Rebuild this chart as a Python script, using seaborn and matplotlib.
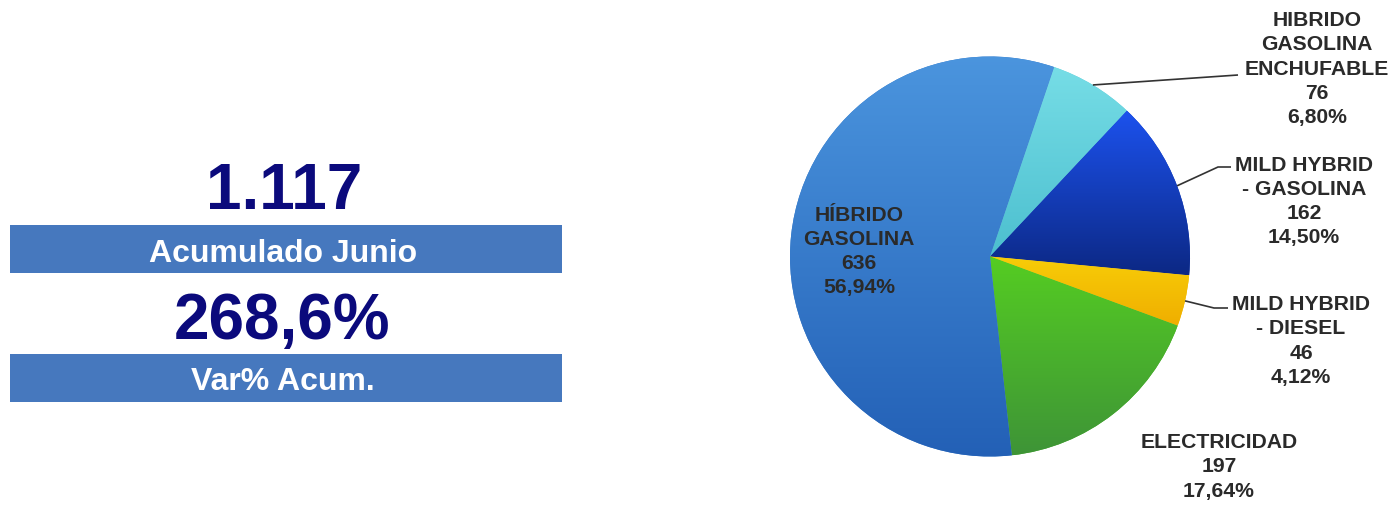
import numpy as np
import matplotlib
matplotlib.use("Agg")
import matplotlib.pyplot as plt
import seaborn as sns
from matplotlib.colors import LinearSegmentedColormap
from matplotlib.patches import Rectangle

# ---- data -------------------------------------------------------------
categories = [
    "HIBRIDO\nGASOLINA\nENCHUFABLE",
    "MILD HYBRID\n- GASOLINA",
    "MILD HYBRID\n- DIESEL",
    "ELECTRICIDAD",
    "HÍBRIDO\nGASOLINA",
]
units = [76, 162, 46, 197, 636]
variation_pct = 268.6
summary_titles = ["Acumulado Junio", "Var% Acum."]

# ---- style ------------------------------------------------------------
sns.set_theme(style="white")
plt.rcParams["font.family"] = ["Liberation Sans", "DejaVu Sans"]

W, H = 1397, 506
NAVY = "#0b0a7c"
BAR = "#4678be"
LABEL = "#2a2a2a"

# top / bottom colours of the vertical gradient on each slice
slice_grad = [
    ("#76dde6", "#4cbfcf"),
    ("#1c52ee", "#0c2884"),
    ("#f7cd08", "#f0ae00"),
    ("#55cd22", "#3e9437"),
    ("#4b95de", "#2360b6"),
]

fig = plt.figure(figsize=(W / 100, H / 100), dpi=100)
ax = fig.add_axes([0, 0, 1, 1])


def Y(y):
    """Convert a top-down pixel row to the axes' bottom-up coordinate."""
    return H - y


# ---- left summary panel ------------------------------------------------
total = int(np.sum(units))
total_txt = f"{total:,}".replace(",", ".")
var_txt = f"{variation_pct:.1f}".replace(".", ",") + "%"

ax.text(284, Y(209), total_txt, ha="center", va="baseline", fontsize=46,
        fontweight="bold", color=NAVY)
ax.add_patch(Rectangle((10, Y(274)), 552, 48, facecolor=BAR, edgecolor="none"))
ax.text(283, Y(262), summary_titles[0], ha="center", va="baseline",
        fontsize=23, fontweight="bold", color="white")

ax.text(282, Y(339), var_txt, ha="center", va="baseline", fontsize=46,
        fontweight="bold", color=NAVY)
ax.add_patch(Rectangle((10, Y(403)), 552, 48, facecolor=BAR, edgecolor="none"))
ax.text(283, Y(390), summary_titles[1], ha="center", va="baseline",
        fontsize=23, fontweight="bold", color="white")

# ---- pie --------------------------------------------------------------
cx, cy, r = 990, Y(257.5), 200
wedges, _ = ax.pie(
    units,
    startangle=71.3,
    counterclock=False,
    center=(cx, cy),
    radius=r,
    colors=[c[0] for c in slice_grad],
    wedgeprops=dict(linewidth=0),
    frame=True,
)

grad = np.linspace(0, 1, 256).reshape(-1, 1)
for w, (top, bottom) in zip(wedges, slice_grad):
    v = w.get_path().vertices
    x0, x1 = v[:, 0].min(), v[:, 0].max()
    y0, y1 = v[:, 1].min(), v[:, 1].max()
    cmap = LinearSegmentedColormap.from_list("g", [bottom, top])
    w.set_facecolor(cmap(0.5))
    im = ax.imshow(grad, extent=(x0, x1, y0, y1), origin="lower", cmap=cmap,
                   aspect="auto", interpolation="bilinear", zorder=w.get_zorder() + 0.1)
    im.set_clip_path(w)

# ---- slice labels -------------------------------------------------------
label_pos = [(1317, 69), (1304, 201.5), (1301, 341), (1219, 467), (859, 251.5)]
leader_pts = [
    [(1238, 76)],
    [(1218, 168), (1231, 168)],
    [(1214, 309), (1228, 309)],
    None,
    None,
]

for w, cat, val, (lx, ly), pts in zip(wedges, categories, units, label_pos, leader_pts):
    pct = f"{val / total * 100:.2f}".replace(".", ",") + "%"
    ax.text(lx, Y(ly), f"{cat}\n{val}\n{pct}", ha="center", va="center",
            multialignment="center", fontsize=15.2, fontweight="bold",
            color=LABEL, linespacing=1.34, zorder=5)
    if pts:
        a = np.deg2rad((w.theta1 + w.theta2) / 2)
        xs = [cx + r * np.cos(a)] + [p[0] for p in pts]
        ys = [cy + r * np.sin(a)] + [Y(p[1]) for p in pts]
        ax.plot(xs, ys, color="#333333", lw=1.2, solid_capstyle="butt", zorder=4)

ax.set_xlim(0, W)
ax.set_ylim(0, H)
ax.set_aspect("equal")
ax.axis("off")

fig.savefig("out.png", dpi=100, facecolor="white")
